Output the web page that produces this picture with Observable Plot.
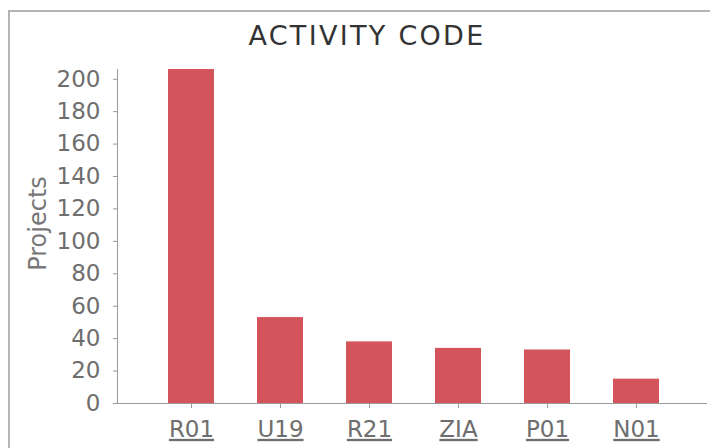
<!DOCTYPE html>
<html>
<head>
<meta charset="utf-8">
<script src="https://cdn.jsdelivr.net/npm/d3@7"></script>
<script src="https://cdn.jsdelivr.net/npm/@observablehq/plot@0.6"></script>
<style>
  html, body { margin: 0; padding: 0; background: #fff; }
  #wrap { position: relative; width: 710px; height: 448px; overflow: hidden; font-family: "DejaVu Sans", sans-serif; }
  #border { position: absolute; left: 8px; top: 10px; width: 720px; height: 460px; border-left: 2px solid #b4b4b4; border-top: 2px solid #b4b4b4; box-sizing: border-box; }
  #title { position: absolute; left: 0; top: 23px; width: 734px; text-align: center; font-size: 27px; line-height: 26px; color: #333; letter-spacing: 2.3px; }
  #chart { position: absolute; left: 0; top: 0; }
  #chart svg [aria-label="x-axis tick label"] text { text-decoration: underline; }
</style>
</head>
<body>
<div id="wrap">
  <div id="border"></div>
  <div id="title">ACTIVITY CODE</div>
  <div id="chart"></div>
</div>
<script>
const codes = ["R01", "U19", "R21", "ZIA", "P01", "N01"];
const projects = [206, 53, 38, 34, 33, 15];
const yTicks = [0, 20, 40, 60, 80, 100, 120, 140, 160, 180, 200];
const yLabel = "Projects";

const chart = Plot.plot({
  width: 710,
  height: 448,
  marginLeft: 117,
  marginRight: 3,
  marginTop: 69,
  marginBottom: 45,
  style: { fontFamily: "DejaVu Sans", background: "transparent", overflow: "visible" },
  x: { domain: codes, range: [144, 683], paddingInner: 0.48, paddingOuter: 0.24, label: null },
  y: { domain: [0, 206], label: null },
  marks: [
    Plot.barY(codes, { x: codes, y: projects, fill: "#d4545b" }),
    Plot.ruleY([0], { stroke: "#999" }),
    Plot.frame({ anchor: "left", stroke: "#999" }),
    Plot.axisX({ tickSize: 5, tickPadding: 12, fontSize: 23, color: "#6e6e6e", stroke: "#999" }),
    Plot.axisY({ ticks: yTicks, tickSize: 4, tickPadding: 13, fontSize: 23, color: "#6e6e6e", stroke: "#999" }),
    Plot.text([yLabel], { frameAnchor: "left", textAnchor: "middle", rotate: -90, dx: -79, dy: -13, fontSize: 24, fill: "#777" })
  ]
});
document.getElementById("chart").appendChild(chart);
</script>
</body>
</html>
